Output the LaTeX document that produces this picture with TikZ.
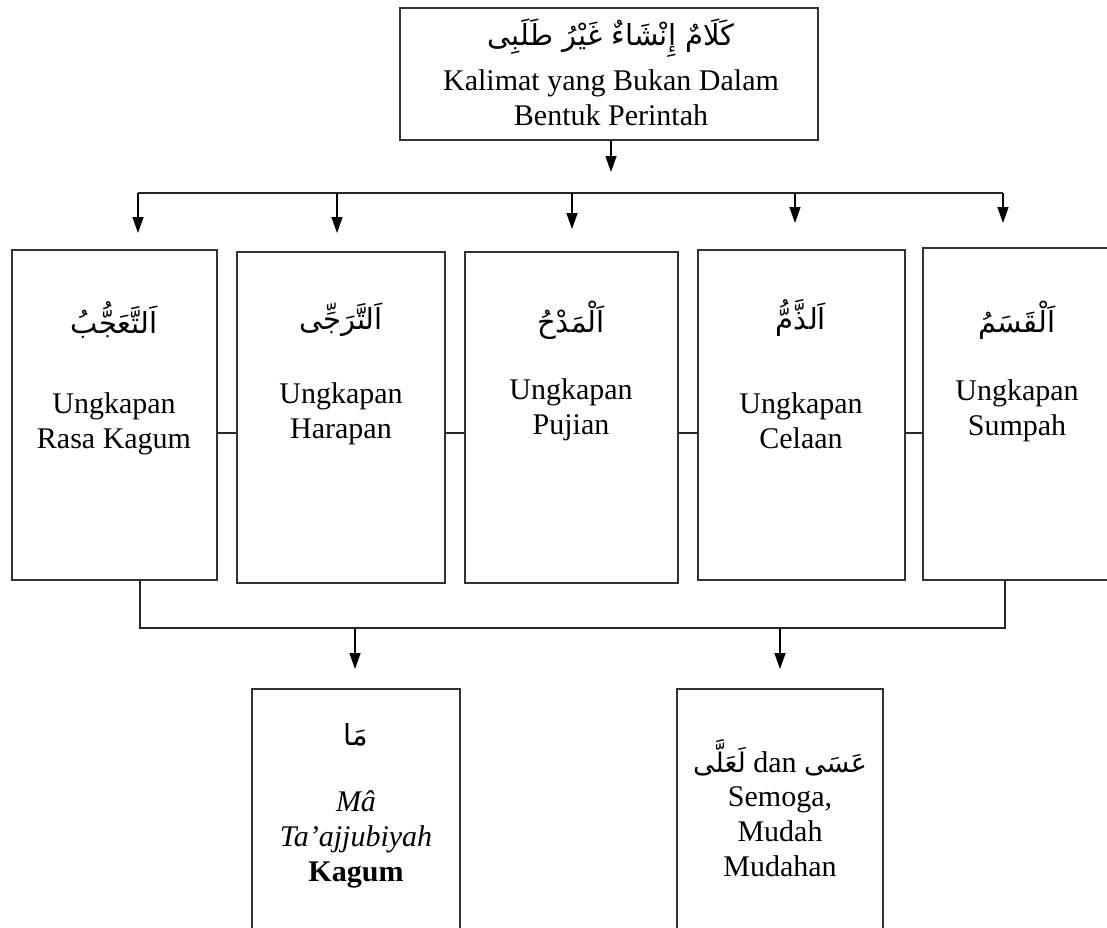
\documentclass[tikz,border=0pt]{standalone}
\usepackage{fontspec}
\setmainfont{Liberation Serif}
\newfontfamily\arabicfont[Script=Arabic]{DejaVu Sans}
\TeXXeTstate=1
\usetikzlibrary{arrows.meta}
\newcommand{\artext}[1]{{\arabicfont\fontsize{29}{32}\selectfont\beginR #1\endR}}
\newcommand{\arword}[1]{{\arabicfont\fontsize{27}{30}\selectfont #1}}
\begin{document}
\begin{tikzpicture}[x=1pt,y=-1pt,
  line/.style={line width=1.4pt, draw=black!85},
  box/.style={draw=black!80, line width=1.4pt, inner sep=0pt},
  arr/.style={line width=1.4pt, -{Triangle[length=16pt,width=11pt]}},
  lat/.style={font=\fontsize{30}{35}\selectfont, align=center, inner sep=0pt},
  arab/.style={inner sep=0pt}]
\useasboundingbox (0,0) rectangle (1107,927);

% top box
\node[box, minimum width=418pt, minimum height=132pt] (top) at (609,74) {};
\node[arab] (t1) at (611,38) {\artext{كَلَامٌ إِنْشَاءٌ غَيْرُ طَلَبِى}};
\node[lat] (t2) at (611,98) {Kalimat yang Bukan Dalam\\Bentuk Perintah};

\coordinate (a0) at (611,172);
\draw[arr] (top.south -| a0) -- (a0);

% distribution bar
\coordinate (bl) at (138,193);
\coordinate (br) at (1003,193);
\draw[line] (bl) -- (br);
\foreach \i/\x/\t in {1/138/233, 2/337/233, 3/572/229, 4/795/223, 5/1003/223}{
  \coordinate (s\i) at (\x,193);
  \coordinate (e\i) at (\x,\t);
  \draw[arr] (s\i) -- (e\i);
}

% five category boxes
\node[box, minimum width=205pt, minimum height=330pt] (b1) at (114.5,415) {};
\node[box, minimum width=208pt, minimum height=331pt] (b2) at (341,417.5) {};
\node[box, minimum width=213pt, minimum height=331pt] (b3) at (571.5,417.5) {};
\node[box, minimum width=207pt, minimum height=330pt] (b4) at (801.5,415) {};
\node[box, minimum width=190pt, minimum height=332pt] (b5) at (1018,414) {};

\node[arab] (ar1) at (114,320) {\artext{اَلتَّعَجُّبُ}};
\node[lat] (l1) at (114,424) {Ungkapan\\Rasa Kagum};
\node[arab] (ar2) at (341,320) {\artext{اَلتَّرَجِّى}};
\node[lat] (l2) at (341,414) {Ungkapan\\Harapan};
\node[arab] (ar3) at (571,320) {\artext{اَلْمَدْحُ}};
\node[lat] (l3) at (571,410) {Ungkapan\\Pujian};
\node[arab] (ar4) at (801,318) {\artext{اَلذَّمُّ}};
\node[lat] (l4) at (801,421) {Ungkapan\\Celaan};
\node[arab] (ar5) at (1017,320) {\artext{اَلْقَسَمُ}};
\node[lat] (l5) at (1017,411) {Ungkapan\\Sumpah};

% side links
\coordinate (hy) at (0,433);
\draw[line] (b1.east |- hy) -- (b2.west |- hy);
\draw[line] (b2.east |- hy) -- (b3.west |- hy);
\draw[line] (b3.east |- hy) -- (b4.west |- hy);
\draw[line] (b4.east |- hy) -- (b5.west |- hy);

% collecting line
\coordinate (lx) at (140,628);
\coordinate (rx) at (1005,628);
\draw[line] (b1.south -| lx) -- (lx) -- (rx) -- (b5.south -| rx);
\coordinate (d1s) at (355,628);
\coordinate (d1e) at (355,669);
\coordinate (d2s) at (780,628);
\coordinate (d2e) at (780,669);
\draw[arr] (d1s) -- (d1e);
\draw[arr] (d2s) -- (d2e);

% bottom boxes
\node[box, minimum width=208pt, minimum height=250pt] (ba) at (356,814) {};
\node[box, minimum width=206pt, minimum height=250pt] (bb) at (780,814) {};

\node[arab] (ma) at (356,735) {\artext{مَا}};
\node[lat] (mt) at (356,839) {\textit{Mâ}\\\textit{Ta’ajjubiyah}\\\textbf{Kagum}};
\node[lat] (as) at (780,758) {\beginR\arword{عَسَى} \beginL dan\endL{} \arword{لَعَلَّى}\endR};
\node[lat] (sm) at (780,832) {Semoga,\\Mudah\\Mudahan};
\end{tikzpicture}
\end{document}
